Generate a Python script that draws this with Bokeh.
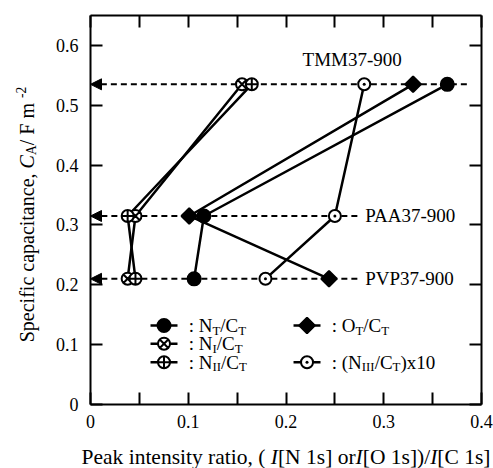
import math
from bokeh.plotting import figure
from bokeh.layouts import row, column
from bokeh.models import Range1d, LinearAxis, FixedTicker, Label, Arrow, NormalHead, ColumnDataSource
from bokeh.core.properties import value
from bokeh.embed import file_html
from bokeh.resources import INLINE

# ---------------- data ----------------
samples = ["TMM37-900", "PAA37-900", "PVP37-900"]
capacitance = [0.535, 0.315, 0.210]          # C_A / F m^-2
n_t = [0.365, 0.116, 0.106]                  # N_T/C_T
o_t = [0.330, 0.101, 0.244]                  # O_T/C_T
n_i = [0.155, 0.046, 0.038]                  # N_I/C_T
n_ii = [0.165, 0.038, 0.046]                 # N_II/C_T
n_iii_x10 = [0.280, 0.250, 0.179]            # (N_III/C_T)x10

x_ticks = [0.0, 0.1, 0.2, 0.3, 0.4]
x_tick_labels = ["0", "0.1", "0.2", "0.3", "0.4"]
x_minor_ticks = [0.05, 0.15, 0.25, 0.35]
y_ticks = [0.0, 0.1, 0.2, 0.3, 0.4, 0.5, 0.6]
y_tick_labels = ["0", "0.1", "0.2", "0.3", "0.4", "0.5", "0.6"]

# ---------------- layout ----------------
W, H = 493, 468
LEFT_W = 50          # strip holding the y title
BOT_H = 28           # strip holding the x title
MW, MH = W - LEFT_W, H - BOT_H
BL, BR, BT, BB = 40, 12, 15, 36
X_MAX, Y_MAX = 0.4, 0.65
PX_X = (MW - BL - BR) / X_MAX
PX_Y = (MH - BT - BB) / Y_MAX
FONT = "Liberation Serif"

p = figure(width=MW, height=MH, x_range=Range1d(0, X_MAX), y_range=Range1d(0, Y_MAX),
           output_backend="svg", toolbar_location=None,
           min_border_left=BL, min_border_right=BR, min_border_top=BT, min_border_bottom=BB)
p.title.visible = False
p.grid.visible = False
p.outline_line_color = None
p.background_fill_color = "white"
p.border_fill_color = "white"


def style_axis(ax, ticker, overrides=None):
    ax.ticker = ticker
    ax.axis_line_width = 2
    ax.axis_line_color = "black"
    ax.major_tick_in = 12
    ax.major_tick_out = 0
    ax.minor_tick_in = 12
    ax.minor_tick_out = 0
    ax.major_tick_line_width = 2
    ax.minor_tick_line_width = 2
    ax.major_tick_line_color = "black"
    ax.minor_tick_line_color = "black"
    ax.axis_label = None
    if overrides is not None:
        ax.major_label_overrides = overrides
        ax.major_label_text_font = FONT
        ax.major_label_text_font_size = "18px"
        ax.major_label_text_color = "black"
        ax.major_label_standoff = 10
    else:
        ax.major_label_text_color = None
        ax.major_label_text_font_size = "1px"
        ax.major_label_standoff = 0


style_axis(p.xaxis[0], FixedTicker(ticks=x_ticks, minor_ticks=x_minor_ticks), dict(zip(x_ticks, x_tick_labels)))
style_axis(p.yaxis[0], FixedTicker(ticks=y_ticks, minor_ticks=[]), dict(zip(y_ticks, y_tick_labels)))
p.yaxis[0].major_label_standoff = 12
top_ax = LinearAxis()
style_axis(top_ax, FixedTicker(ticks=x_ticks, minor_ticks=x_minor_ticks))
p.add_layout(top_ax, "above")
right_ax = LinearAxis()
style_axis(right_ax, FixedTicker(ticks=y_ticks, minor_ticks=[]))
p.add_layout(right_ax, "right")

# ---------------- text helpers ----------------
WID = {' ': 250, '!': 333, '(': 333, ')': 333, ',': 250, '-': 333, '.': 250, '/': 278, ':': 278,
       '[': 333, ']': 333, 'A': 722, 'B': 667, 'C': 667, 'D': 722, 'E': 611, 'F': 556, 'G': 722,
       'H': 722, 'I': 333, 'J': 389, 'K': 722, 'L': 611, 'M': 889, 'N': 722, 'O': 722, 'P': 556,
       'Q': 722, 'R': 667, 'S': 556, 'T': 611, 'U': 722, 'V': 722, 'W': 944, 'X': 722, 'Y': 722,
       'Z': 611, 'a': 444, 'b': 500, 'c': 444, 'd': 500, 'e': 444, 'f': 333, 'g': 500, 'h': 500,
       'i': 278, 'j': 278, 'k': 500, 'l': 278, 'm': 778, 'n': 500, 'o': 500, 'p': 500, 'q': 500,
       'r': 333, 's': 389, 't': 278, 'u': 500, 'v': 500, 'w': 722, 'x': 500, 'y': 500, 'z': 444}
SUB = 0.68


def tw(s, size):
    return sum(WID.get(c, 500) for c in s) * size / 1000.0


def piece_size(st, size):
    return size * (SUB if st in ("sub", "sup") else 1.0)


def piece_shift(st, size):
    # shift (px, positive = downward in reading frame) of a piece's middle line
    if st == "sub":
        return 0.27 * size
    if st == "sup":
        return -0.29 * size
    return 0.0


def rich_width(pieces, size):
    return sum(tw(t, piece_size(st, size)) for t, st in pieces)


def add_rich_label(fig, x, y, pieces, size):
    """Horizontal rich text inside the main frame; y is the middle line (data units)."""
    adv = 0.0
    for txt, st in pieces:
        fs = piece_size(st, size)
        fig.add_layout(Label(x=x, y=y - piece_shift(st, size) / PX_Y, x_offset=adv, text=txt,
                             text_font=FONT, text_font_size=f"{fs:.1f}px",
                             text_font_style="italic" if st == "i" else "normal",
                             text_color="black", text_align="left", text_baseline="middle"))
        adv += tw(txt, fs)


def add_rich_px(fig, x, y, pieces, size, vertical=False):
    """Rich text on a strip figure whose ranges are page pixels (y grows downward)."""
    adv = 0.0
    for txt, st in pieces:
        fs = piece_size(st, size)
        sh = piece_shift(st, size)
        if vertical:
            px, py, ang = x + sh, y - adv, math.pi / 2
        else:
            px, py, ang = x + adv, y + sh, 0.0
        fig.text(x=[px], y=[py], text=[txt], angle=ang, text_font=value(FONT),
                 text_font_size=value(f"{fs:.1f}px"),
                 text_font_style=value("italic" if st == "i" else "normal"),
                 text_color="black", text_align="left", text_baseline="middle")
        adv += tw(txt, fs)


# ---------------- dashed guide arrows ----------------
dash_start = [0.385, 0.273, 0.273]
arrow_src = ColumnDataSource(dict(x0=dash_start, x1=[0.0] * len(samples), y=capacitance))
p.add_layout(Arrow(source=arrow_src, x_start="x0", y_start="y", x_end="x1", y_end="y",
                   line_dash="6 4", line_width=2, line_color="black", level="underlay",
                   end=NormalHead(size=11, fill_color="black", line_color="black", line_width=1)))

sample_label_x = [0.217, 0.281, 0.281]
sample_label_dy = [0.041, 0.0, 0.0]
for s, lx, dy, c in zip(samples, sample_label_x, sample_label_dy, capacitance):
    add_rich_label(p, lx, c + dy, [(s, "n")], 19)

# ---------------- series ----------------
series = [
    (n_t, dict(marker="circle", size=13, fill_color="black")),
    (o_t, dict(marker="square", size=11, angle=math.pi / 4, fill_color="black")),
    (n_i, dict(marker="circle_x", size=12, fill_color="white")),
    (n_ii, dict(marker="circle_cross", size=12, fill_color="white")),
    (n_iii_x10, dict(marker="circle_dot", size=12, fill_color="white")),
]
for vals, _ in series:
    p.line(vals, capacitance, line_color="black", line_width=2.5)
for i in [4, 2, 3, 0, 1]:
    vals, mk = series[i]
    p.scatter(vals, capacitance, line_color="black", line_width=2, **mk)

# ---------------- legend ----------------
leg_x = [0.0614, 0.2077]
leg_len = 0.0276
leg_text_dx = 0.039
leg_y = [0.132, 0.1014, 0.0707]
legend_entries = [
    (0, 0, 0, [(": N", "n"), ("T", "sub"), ("/C", "n"), ("T", "sub")]),
    (1, 1, 0, [(": O", "n"), ("T", "sub"), ("/C", "n"), ("T", "sub")]),
    (2, 0, 1, [(": N", "n"), ("I", "sub"), ("/C", "n"), ("T", "sub")]),
    (3, 0, 2, [(": N", "n"), ("II", "sub"), ("/C", "n"), ("T", "sub")]),
    (4, 1, 2, [(": (N", "n"), ("III", "sub"), ("/C", "n"), ("T", "sub"), (")x10", "n")]),
]
for si, col, rw, pieces in legend_entries:
    mk = series[si][1]
    x0 = leg_x[col]
    yy = leg_y[rw]
    p.segment(x0=[x0], y0=[yy], x1=[x0 + leg_len], y1=[yy], line_color="black", line_width=2.5)
    p.scatter([x0 + leg_len / 2], [yy], line_color="black", line_width=2, **mk)
    add_rich_label(p, x0 + leg_text_dx, yy, pieces, 19)


# ---------------- title strips ----------------
def strip(width, height, xr, yr, **borders):
    f = figure(width=width, height=height, x_range=Range1d(*xr), y_range=Range1d(*yr),
               output_backend="svg", toolbar_location=None, x_axis_location=None,
               y_axis_location=None, min_border=0, **borders)
    f.title.visible = False
    f.grid.visible = False
    f.outline_line_color = None
    f.background_fill_color = "white"
    f.border_fill_color = "white"
    return f


# left strip shares the main figure's top/bottom borders, so its frame spans page y BT..MH-BB
left = strip(LEFT_W, MH, (0, LEFT_W), (MH - BB, BT), min_border_top=BT, min_border_bottom=BB)
# bottom strip spans the whole page width, page y MH..H
bottom = strip(W, BOT_H, (0, W), (H, MH))

frame_left = LEFT_W + BL
frame_cx = frame_left + (MW - BL - BR) / 2
xl_pieces = [("Peak intensity ratio, ( ", "n"), ("I", "i"), ("[N 1s] or", "n"), ("I", "i"),
             ("[O 1s])/", "n"), ("I", "i"), ("[C 1s]", "n")]
xl_size = 21.5
add_rich_px(bottom, frame_cx - rich_width(xl_pieces, xl_size) / 2, 456, xl_pieces, xl_size)

yl_pieces = [("Specific capacitance, ", "n"), ("C", "i"), ("A", "sub"), (" / F m", "n"), ("-2", "sup")]
yl_size = 20
yl_center = 214
add_rich_px(left, 26, yl_center + rich_width(yl_pieces, yl_size) / 2, yl_pieces, yl_size, vertical=True)

layout = column(row(left, p, spacing=0), bottom, spacing=0)
open("out.html", "w").write(file_html(layout, INLINE))
